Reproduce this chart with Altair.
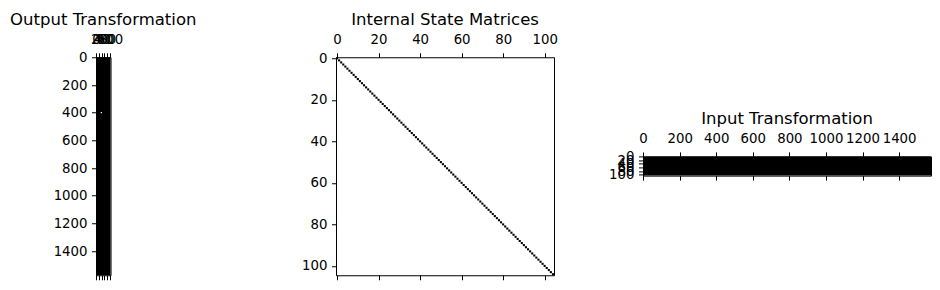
import altair as alt
import pandas as pd

FONT = "DejaVu Sans"

# ---- matrix shapes -------------------------------------------------------
n_channels = 1575   # rows of output transform / columns of input transform
n_states = 105      # size of internal state matrix

# Output transformation: nonzero block and the single zero entry seen
out_r0 = [0]
out_r1 = [1575]
out_c0 = [0]
out_c1 = [105]
out_zero_rows = [400]
out_zero_cols = [38]

# Internal state matrix: nonzeros on the diagonal
state_diag = list(range(105))

# Input transformation: nonzero block
in_r0 = [0]
in_r1 = [105]
in_c0 = [0]
in_c1 = [1575]

# ---- tick labels ---------------------------------------------------------
out_xticks = [0, 20, 40, 60, 80, 100]
out_yticks = [0, 200, 400, 600, 800, 1000, 1200, 1400]
state_ticks = [0, 20, 40, 60, 80, 100]
in_xticks = [0, 200, 400, 600, 800, 1000, 1200, 1400]
in_yticks = [0, 20, 40, 60, 80, 100]

TICK = 4.5


def axis_top(values):
    return alt.Axis(orient="top", values=values, title=None, labelOverlap=False,
                    labelFlush=False, labelBound=False, tickSize=TICK, format="d",
                    labelPadding=6.5, domain=False, grid=False)


def axis_bottom(values):
    return alt.Axis(orient="bottom", values=values, title=None, labels=False,
                    tickSize=TICK, domain=False, grid=False)


def axis_left(values):
    return alt.Axis(orient="left", values=values, title=None, labelOverlap=False,
                    labelFlush=False, labelBound=False, tickSize=TICK, format="d",
                    labelPadding=4.5, domain=False, grid=False)


def panel(df, nrows, ncols, w, h, xt, yt, title, zeros=None):
    xs = alt.Scale(domain=[-0.5, ncols - 0.5], nice=False, zero=False)
    ys = alt.Scale(domain=[-0.5, nrows - 0.5], nice=False, zero=False, reverse=True)
    base = alt.Chart(df).transform_calculate(
        x0="datum.c0 - 0.5", x1="datum.c1 - 0.5",
        y0="datum.r0 - 0.5", y1="datum.r1 - 0.5")
    main = base.mark_rect(color="black").encode(
        x=alt.X("x0:Q", scale=xs, axis=axis_top(xt)), x2="x1:Q",
        y=alt.Y("y0:Q", scale=ys, axis=axis_left(yt)), y2="y1:Q")
    bottom = base.mark_rect(opacity=0).encode(
        x=alt.X("x0:Q", scale=xs, axis=axis_bottom(xt)), x2="x1:Q",
        y=alt.Y("y0:Q", scale=ys, axis=None), y2="y1:Q")
    layers = [main, bottom]
    if zeros is not None:
        layers.append(alt.Chart(zeros).mark_square(color="white", opacity=1, size=1.5).encode(
            x=alt.X("c:Q", scale=xs, axis=None),
            y=alt.Y("r:Q", scale=ys, axis=None)))
    return alt.layer(*layers).resolve_axis(x="independent", y="independent").properties(
        width=w, height=h, title=alt.Title(title, frame="group"))


out_df = pd.DataFrame({"r0": out_r0, "r1": out_r1, "c0": out_c0, "c1": out_c1})
out_zero_df = pd.DataFrame({"r": out_zero_rows, "c": out_zero_cols})
state_df = pd.DataFrame({"r0": state_diag, "r1": [i + 1 for i in state_diag],
                         "c0": state_diag, "c1": [i + 1 for i in state_diag]})
in_df = pd.DataFrame({"r0": in_r0, "r1": in_r1, "c0": in_c0, "c1": in_c1})

out_panel = panel(out_df, n_channels, n_states, 218 * n_states / n_channels, 218,
                  out_xticks, out_yticks, "Output Transformation", zeros=out_zero_df)
state_panel = panel(state_df, n_states, n_states, 218, 218,
                    state_ticks, state_ticks, "Internal State Matrices")
in_panel = panel(in_df, n_states, n_channels, 288, 288 * n_states / n_channels,
                 in_xticks, in_yticks, "Input Transformation")

chart = alt.hconcat(
    alt.hconcat(out_panel, state_panel, spacing=104),
    in_panel, spacing=50, center=True,
).properties(
    padding={"left": 9, "top": 11, "right": 5, "bottom": 5}
).configure_view(
    stroke="black", strokeWidth=1
).configure_axis(
    labelFont=FONT, labelFontSize=13.3, labelColor="black",
    tickColor="black", tickWidth=1
).configure_title(
    font=FONT, fontSize=16.5, fontWeight="normal", color="black", offset=4
)

chart.save("out.html", embed_options={"renderer": "svg", "actions": False})
